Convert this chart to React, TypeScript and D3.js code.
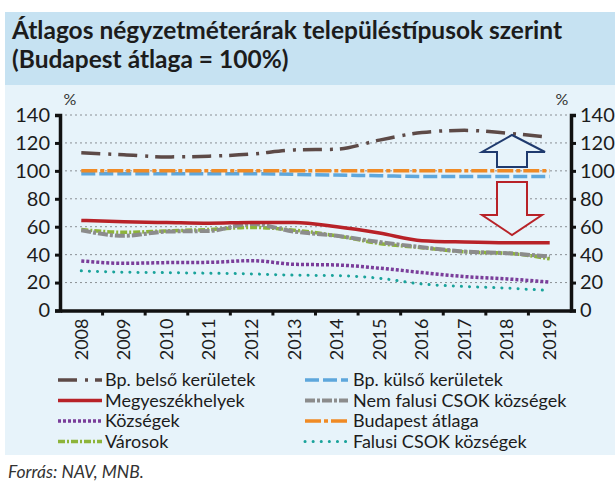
import React, { useEffect, useRef } from "react";
import * as d3 from "d3";

// data
const years = ["2008", "2009", "2010", "2011", "2012", "2013", "2014", "2015", "2016", "2017", "2018", "2019"];
const bpBelso = [113, 111.5, 110, 110.5, 112, 115, 115.5, 122, 127.5, 129, 127, 124];
const bpKulso = [98, 98, 98, 98, 98, 97.5, 97, 96.5, 96, 96, 96, 96];
const bpAtlag = [100, 100, 100, 100, 100, 100, 100, 100, 100, 100, 100, 100];
const megyeszekhelyek = [64.5, 63.5, 63, 62.5, 63, 63, 60, 55.5, 50, 49, 48.5, 48.5];
const nemFalusiCsok = [57.5, 53.5, 56.5, 57, 62, 56.5, 53.5, 49, 45.3, 42.2, 41, 38.6];
const varosok = [58, 56, 57, 58, 59.5, 57.5, 53.5, 48, 45, 42, 41, 37];
const kozsegek = [35.5, 33.8, 34.3, 34.5, 35.7, 33.1, 32.6, 30.3, 27.2, 24.3, 22.6, 20.3];
const falusiCsok = [28.4, 27.4, 27.1, 26.7, 26.2, 25.3, 25, 23.1, 19, 17.2, 16, 14.3];
const yTicks = [0, 20, 40, 60, 80, 100, 120, 140];

type Series = { name: string; values: number[]; color: string; width: number; dash: string | null; cap: string };

const series: Series[] = [
  { name: "Bp. belső kerületek", values: bpBelso, color: "#5d4a47", width: 3.5, dash: "19 8 3 7", cap: "butt" },
  { name: "Bp. külső kerületek", values: bpKulso, color: "#5ea7dc", width: 3.5, dash: "14 4", cap: "butt" },
  { name: "Budapest átlaga", values: bpAtlag, color: "#f08a24", width: 3.5, dash: "16 3 4 3", cap: "butt" },
  { name: "Városok", values: varosok, color: "#8db43a", width: 3.5, dash: "7 2 2 2", cap: "butt" },
  { name: "Nem falusi CSOK községek", values: nemFalusiCsok, color: "#8c8c8c", width: 4, dash: "10 2 3 2", cap: "butt" },
  { name: "Megyeszékhelyek", values: megyeszekhelyek, color: "#b82228", width: 3.5, dash: null, cap: "butt" },
  { name: "Községek", values: kozsegek, color: "#7a3d9a", width: 3.5, dash: "3 2", cap: "butt" },
  { name: "Falusi CSOK községek", values: falusiCsok, color: "#1aa39b", width: 3, dash: "0.1 8", cap: "round" },
];

// legend order: left column, then right column
const legendLeft = ["Bp. belső kerületek", "Megyeszékhelyek", "Községek", "Városok"];
const legendRight = ["Bp. külső kerületek", "Nem falusi CSOK községek", "Budapest átlaga", "Falusi CSOK községek"];

const App = () => {
  const svgRef = useRef<SVGSVGElement>(null);

  useEffect(() => {
    const svg = d3.select(svgRef.current);
    svg.selectAll("*").remove();

    const W = 615;
    const H = 481;
    const left = 60;
    const right = 571;
    const top = 115;
    const bottom = 310.5;
    const font = "Lato, 'Open Sans', sans-serif";

    // panels
    svg.append("rect").attr("width", W).attr("height", H).attr("fill", "#ffffff");
    svg.append("rect").attr("x", 5).attr("y", 12).attr("width", 610).attr("height", 73).attr("fill", "#c6e2f2");
    svg.append("rect").attr("x", 5).attr("y", 85).attr("width", 610).attr("height", 370).attr("fill", "#e7f3fa");

    const titleLines = ["Átlagos négyzetméterárak településtípusok szerint", "(Budapest átlaga = 100%)"];
    titleLines.forEach((t, i) => {
      svg
        .append("text")
        .attr("x", 12)
        .attr("y", 39 + i * 28.5)
        .attr("font-family", font)
        .attr("font-weight", "bold")
        .attr("font-size", 24.5)
        .attr("fill", "#1c1c1c")
        .text(t);
    });

    const x = d3.scaleBand().domain(years).range([left, right]);
    const y = d3.scaleLinear().domain([0, 140]).range([bottom, top]);

    // dotted grid
    svg
      .append("g")
      .selectAll("line")
      .data(yTicks.filter((d) => d > 0))
      .enter()
      .append("line")
      .attr("x1", left)
      .attr("x2", right)
      .attr("y1", (d) => y(d))
      .attr("y2", (d) => y(d))
      .attr("stroke", "#8a8f94")
      .attr("stroke-width", 1)
      .attr("stroke-dasharray", "2 3");

    // lines
    const line = d3
      .line<number>()
      .x((_, i) => (x(years[i]) as number) + x.bandwidth() / 2)
      .y((d) => y(d))
      .curve(d3.curveMonotoneX);

    series.forEach((s) => {
      svg
        .append("path")
        .attr("d", line(s.values))
        .attr("fill", "none")
        .attr("stroke", s.color)
        .attr("stroke-width", s.width)
        .attr("stroke-dasharray", s.dash)
        .attr("stroke-linecap", s.cap);
    });

    // axes
    const yLeft = svg
      .append("g")
      .attr("transform", `translate(${left},0)`)
      .call(d3.axisLeft(y).tickValues(yTicks).tickSize(5).tickPadding(5));
    const yRight = svg
      .append("g")
      .attr("transform", `translate(${right},0)`)
      .call(d3.axisRight(y).tickValues(yTicks).tickSize(5).tickPadding(4));
    [yLeft, yRight].forEach((g) => {
      g.select(".domain").attr("stroke", "#111").attr("stroke-width", 3.5);
      g.selectAll(".tick line").attr("stroke", "#111").attr("stroke-width", 3);
      g.selectAll("text").attr("font-family", font).attr("font-size", 20).attr("fill", "#1c1c1c");
    });

    const xAxis = svg
      .append("g")
      .attr("transform", `translate(0,${bottom})`)
      .call(d3.axisBottom(x).tickSize(0));
    xAxis.select(".domain").attr("stroke", "#111").attr("stroke-width", 3.5);
    xAxis
      .selectAll("text")
      .attr("font-family", font)
      .attr("font-size", 18)
      .attr("fill", "#1c1c1c")
      .attr("text-anchor", "end")
      .attr("transform", "rotate(-90)")
      .attr("x", -8)
      .attr("y", 0)
      .attr("dy", "0.35em");
    // ticks at band boundaries
    svg
      .append("g")
      .selectAll("line")
      .data(years.slice(1))
      .enter()
      .append("line")
      .attr("x1", (d) => x(d) as number)
      .attr("x2", (d) => x(d) as number)
      .attr("y1", bottom)
      .attr("y2", bottom + 5)
      .attr("stroke", "#111")
      .attr("stroke-width", 3);

    svg.append("text").attr("x", 70).attr("y", 105).attr("text-anchor", "middle").attr("font-family", font).attr("font-size", 16).attr("fill", "#333").text("%");
    svg.append("text").attr("x", 562).attr("y", 105).attr("text-anchor", "middle").attr("font-family", font).attr("font-size", 16).attr("fill", "#333").text("%");

    // arrows
    const up: [number, number][] = [
      [512, 135], [545, 152], [527, 152], [527, 167], [497, 167], [497, 152], [482, 152],
    ];
    const down: [number, number][] = [
      [497, 182], [527, 182], [527, 215], [542, 215], [512, 235], [482, 215], [497, 215],
    ];
    svg.append("polygon").attr("points", up.map((p) => p.join(",")).join(" ")).attr("fill", "#e7f3fa").attr("stroke", "#1f3a6e").attr("stroke-width", 2);
    svg.append("polygon").attr("points", down.map((p) => p.join(",")).join(" ")).attr("fill", "#e7f3fa").attr("stroke", "#b82228").attr("stroke-width", 2);

    // legend
    const rowY = [380, 400.5, 421, 441.5];
    const drawLegend = (names: string[], x0: number, x1: number, tx: number) => {
      names.forEach((n, i) => {
        const s = series.find((d) => d.name === n) as Series;
        svg
          .append("line")
          .attr("x1", x0)
          .attr("x2", x1)
          .attr("y1", rowY[i])
          .attr("y2", rowY[i])
          .attr("stroke", s.color)
          .attr("stroke-width", s.width)
          .attr("stroke-dasharray", s.dash)
          .attr("stroke-linecap", s.cap);
        svg
          .append("text")
          .attr("x", tx)
          .attr("y", rowY[i] + 6)
          .attr("font-family", font)
          .attr("font-size", 18)
          .attr("fill", "#1c1c1c")
          .text(n);
      });
    };
    drawLegend(legendLeft, 58, 102, 105);
    drawLegend(legendRight, 305, 348, 353);

    svg
      .append("text")
      .attr("x", 8)
      .attr("y", 478)
      .attr("font-family", font)
      .attr("font-style", "italic")
      .attr("font-size", 17.5)
      .attr("fill", "#333")
      .text("Forrás: NAV, MNB.");
  }, []);

  return <svg ref={svgRef} width={615} height={481} style={{ position: "absolute", left: 0, top: 0 }}></svg>;
};

export default App;
